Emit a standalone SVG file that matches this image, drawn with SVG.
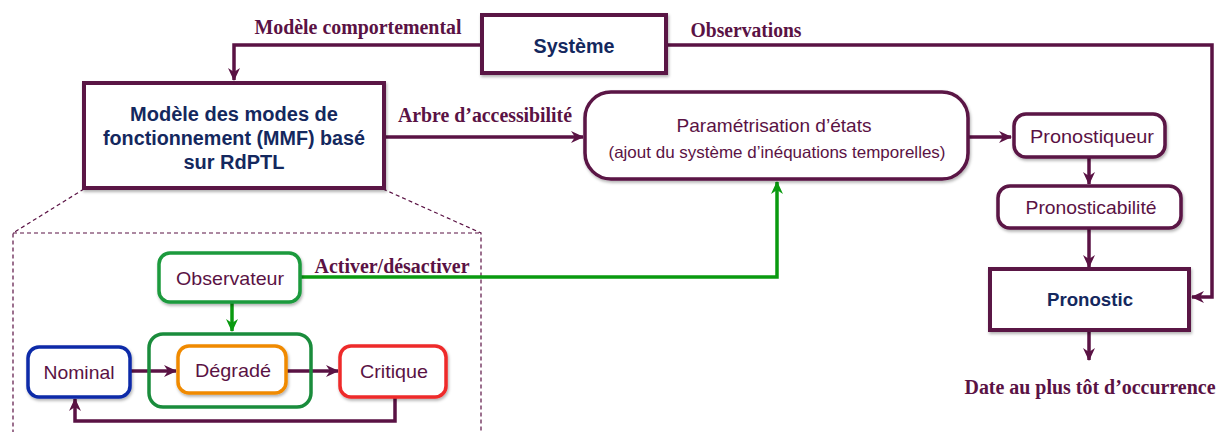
<svg xmlns="http://www.w3.org/2000/svg" width="1223" height="432" viewBox="0 0 1223 432">
<style>
.box{fill:#fff;stroke:#5a1244;stroke-width:3.5}
.sq{fill:#fff;stroke:#5a1244;stroke-width:4}
.navy{font-family:"Liberation Sans",Arial,sans-serif;font-weight:bold;fill:#14285e;text-anchor:middle}
.mar{font-family:"Liberation Sans",Arial,sans-serif;fill:#5a1244;text-anchor:middle}
.lab{font-family:"Liberation Serif","Times New Roman",serif;font-weight:bold;fill:#5a1244;font-size:20px;text-anchor:middle}
.con{fill:none;stroke:#5a1244;stroke-width:3.5}
.gcon{fill:none;stroke:#0a9a10;stroke-width:3.5}
.dash{fill:none;stroke:#5a1244;stroke-width:1.2;stroke-dasharray:4 3}
</style>
<defs>
<marker id="a" markerUnits="userSpaceOnUse" markerWidth="14" markerHeight="14" refX="12" refY="7" orient="auto">
<path d="M0,1 L13,7 L0,13 L4,7 z" fill="#5a1244"/>
</marker>
<marker id="g" markerUnits="userSpaceOnUse" markerWidth="14" markerHeight="14" refX="12" refY="7" orient="auto">
<path d="M0,1 L13,7 L0,13 L4,7 z" fill="#0a9a10"/>
</marker>
<filter id="sh" x="-10%" y="-10%" width="120%" height="130%">
<feDropShadow dx="1" dy="2" stdDeviation="1.5" flood-color="#000" flood-opacity="0.3"/>
</filter>
</defs>

<g id="zoom-frame">
<path class="dash" d="M84,189 L13,233 V432 M383,189 L481,233 V432 M13,233 H481"/>
</g>

<g id="connectors">
<path class="con" d="M482,45 H234 V80" marker-end="url(#a)"/>
<path class="con" d="M666,45 H1212 V297 H1192" marker-end="url(#a)"/>
<path class="con" d="M384,137 H583" marker-end="url(#a)"/>
<path class="con" d="M968,137 H1011" marker-end="url(#a)"/>
<path class="con" d="M1089,158 V184" marker-end="url(#a)"/>
<path class="con" d="M1089,229 V267" marker-end="url(#a)"/>
<path class="con" d="M1089,331 V360" marker-end="url(#a)"/>
<path class="gcon" d="M301,277 H777 V182" marker-end="url(#g)"/>
<path class="gcon" d="M232,303 V331" marker-end="url(#g)"/>
<path class="con" d="M131,371 H176" marker-end="url(#a)"/>
<path class="con" d="M287,371 H338" marker-end="url(#a)"/>
<path class="con" d="M395,398 V421 H75 V399" marker-end="url(#a)"/>
<text class="lab" x="358" y="34" textLength="207" lengthAdjust="spacingAndGlyphs">Modèle comportemental</text>
<text class="lab" x="746" y="37" textLength="111" lengthAdjust="spacingAndGlyphs">Observations</text>
<text class="lab" x="485" y="122" textLength="174" lengthAdjust="spacingAndGlyphs">Arbre d’accessibilité</text>
<text class="lab" x="392" y="273" textLength="155" lengthAdjust="spacingAndGlyphs">Activer/désactiver</text>
<text class="lab" x="1090" y="394" textLength="251" lengthAdjust="spacingAndGlyphs">Date au plus tôt d’occurrence</text>
</g>

<g id="systeme">
<rect class="sq" x="482" y="15" width="184" height="58" filter="url(#sh)"/>
<text class="navy" x="574" y="53" font-size="20" textLength="81" lengthAdjust="spacingAndGlyphs">Système</text>
</g>

<g id="mmf">
<rect class="sq" x="84" y="83" width="300" height="105" filter="url(#sh)"/>
<text class="navy" x="234" y="121" font-size="20">Modèle des modes de</text>
<text class="navy" x="234" y="145" font-size="20" textLength="262" lengthAdjust="spacingAndGlyphs">fonctionnement (MMF) basé</text>
<text class="navy" x="234" y="169" font-size="20">sur RdPTL</text>
</g>

<g id="parametrisation">
<rect class="box" x="585" y="92" width="383" height="87" rx="26" filter="url(#sh)"/>
<text class="mar" x="774" y="132" font-size="19" textLength="195" lengthAdjust="spacingAndGlyphs">Paramétrisation d’états</text>
<text class="mar" x="777" y="158" font-size="16.5" textLength="337" lengthAdjust="spacingAndGlyphs">(ajout du système d’inéquations temporelles)</text>
</g>

<g id="pronostiqueur">
<rect class="box" x="1014" y="114" width="151" height="43" rx="12" filter="url(#sh)"/>
<text class="mar" x="1092" y="143" font-size="19" textLength="124" lengthAdjust="spacingAndGlyphs">Pronostiqueur</text>
</g>

<g id="pronosticabilite">
<rect class="box" x="998" y="186" width="183" height="42" rx="12" filter="url(#sh)"/>
<text class="mar" x="1091" y="214" font-size="19" textLength="131" lengthAdjust="spacingAndGlyphs">Pronosticabilité</text>
</g>

<g id="pronostic">
<rect class="sq" x="990" y="269" width="199" height="61" filter="url(#sh)"/>
<text class="navy" x="1090" y="306" font-size="19" textLength="86" lengthAdjust="spacingAndGlyphs">Pronostic</text>
</g>

<g id="observateur">
<rect x="159" y="253" width="141" height="49" rx="11" fill="#fff" stroke="#1a9a3c" stroke-width="3.5" filter="url(#sh)"/>
<text class="mar" x="230" y="285" font-size="19" textLength="108" lengthAdjust="spacingAndGlyphs">Observateur</text>
</g>

<g id="degrade-group">
<rect x="149" y="334" width="162" height="73" rx="14" fill="none" stroke="#1a8c3c" stroke-width="3.5"/>
</g>

<g id="degrade">
<rect x="178" y="346" width="108" height="47" rx="11" fill="#fff" stroke="#f08a00" stroke-width="3.5" filter="url(#sh)"/>
<text class="mar" x="233" y="377" font-size="19" textLength="76" lengthAdjust="spacingAndGlyphs">Dégradé</text>
</g>

<g id="nominal">
<rect x="28" y="347" width="102" height="50" rx="11" fill="#fff" stroke="#0a2aa8" stroke-width="3.5" filter="url(#sh)"/>
<text class="mar" x="79" y="379" font-size="19" textLength="71" lengthAdjust="spacingAndGlyphs">Nominal</text>
</g>

<g id="critique">
<rect x="340" y="346" width="106" height="51" rx="11" fill="#fff" stroke="#ee2a2a" stroke-width="3.5" filter="url(#sh)"/>
<text class="mar" x="394" y="378" font-size="19" textLength="68" lengthAdjust="spacingAndGlyphs">Critique</text>
</g>
</svg>
